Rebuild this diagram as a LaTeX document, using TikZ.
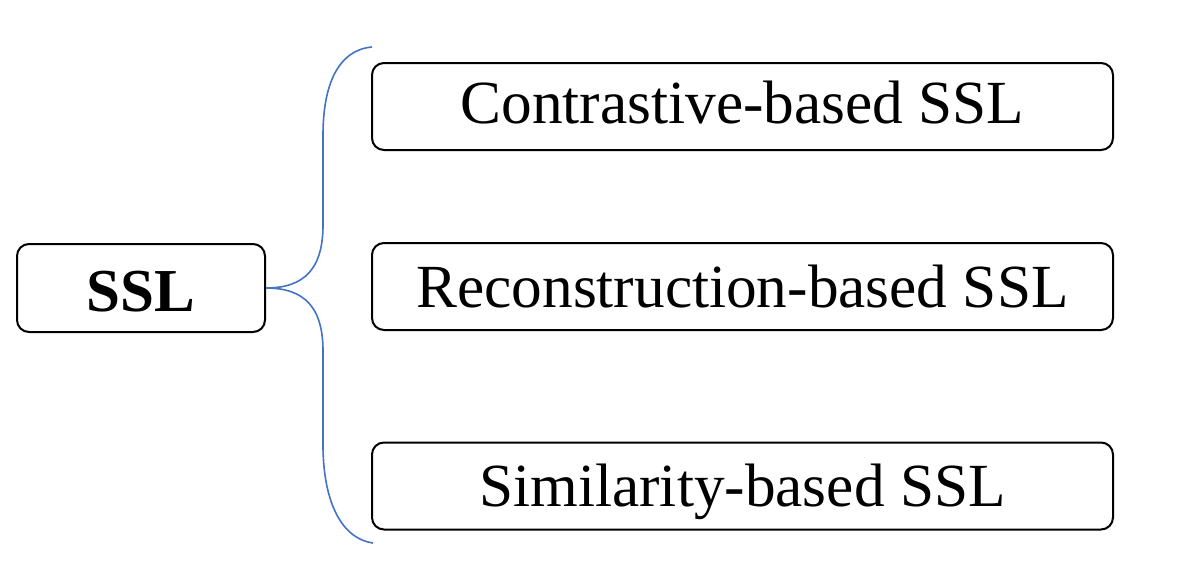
\documentclass[tikz,border=0pt]{standalone}
\usepackage{fontspec}
\setmainfont{Liberation Serif}
\definecolor{bracec}{RGB}{68,114,196}
\begin{document}
\begin{tikzpicture}[x=1pt,y=-1pt,
  catbox/.style={draw=black,line width=2pt,rounded corners=12pt,inner sep=0pt,
    minimum width=741pt,minimum height=87pt,font=\fontsize{61.3pt}{70pt}\selectfont,
    text height=33.5pt,text depth=0pt},
  rootbox/.style={draw=black,line width=2pt,rounded corners=12pt,inner sep=0pt,
    minimum width=248pt,minimum height=88pt,font=\fontsize{61pt}{70pt}\selectfont\bfseries,
    text height=46pt,text depth=0pt},
  bracel/.style={draw=bracec,line width=1.6pt}]
\useasboundingbox (0,0) rectangle (1189,576);
\node[rootbox] (ssl) at (141,288) {SSL};
\node[catbox] (c1) at (742.5,106.5) {Contrastive-based SSL};
\node[catbox,text height=41pt] (c2) at (742.5,286.5) {Reconstruction-based SSL};
\node[catbox,text height=40pt] (c3) at (742.5,486) {Similarity-based SSL};
\coordinate (btop) at (372,47);
\coordinate (bbot) at (373,543);
\draw[bracel] (btop) .. controls (338,50) and (323,85) .. (323,135) -- (323,225)
  .. controls (323,268) and (305,288) .. (ssl.east)
  .. controls (305,288) and (323,308) .. (323,351) -- (323,445)
  .. controls (323,495) and (338,538) .. (bbot);
\end{tikzpicture}
\end{document}
